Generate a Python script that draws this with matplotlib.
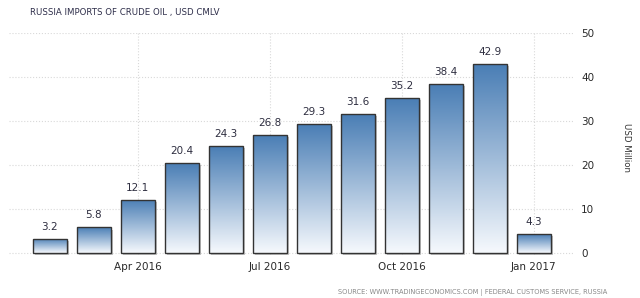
import numpy as np
import matplotlib
matplotlib.use('Agg')
import matplotlib.pyplot as plt
from matplotlib.colors import LinearSegmentedColormap
import matplotlib.patheffects as pe

# Russia imports of crude oil, cumulative, USD million
months = ['Feb 2016', 'Mar 2016', 'Apr 2016', 'May 2016', 'Jun 2016', 'Jul 2016',
          'Aug 2016', 'Sep 2016', 'Oct 2016', 'Nov 2016', 'Dec 2016', 'Jan 2017']
values = [3.2, 5.8, 12.1, 20.4, 24.3, 26.8, 29.3, 31.6, 35.2, 38.4, 42.9, 4.3]
tick_labels = ['Apr 2016', 'Jul 2016', 'Oct 2016', 'Jan 2017']
tick_idx = [months.index(t) for t in tick_labels]

fig = plt.figure(figsize=(6.4, 2.98), dpi=100)
ax = fig.add_axes([0.014, 0.1436, 0.881, 0.7454])

cmap = LinearSegmentedColormap.from_list('grad', ['#f6f9fd', '#4a7eb5'])
grad = np.linspace(0, 1, 256).reshape(-1, 1)
x = np.arange(len(values))
w = 0.77

bars = ax.bar(x, values, width=w, facecolor='white', edgecolor='none', zorder=2,
              path_effects=[pe.SimplePatchShadow(offset=(1.5, -1.5), shadow_rgbFace='#888888', alpha=0.5),
                            pe.Normal()])
for b, xi, v in zip(bars, x, values):
    im = ax.imshow(grad, cmap=cmap, origin='lower', aspect='auto',
                   extent=(xi - w / 2, xi + w / 2, 0, v), zorder=3)
    im.set_clip_path(b)
    ax.text(xi, v + 1.6, f'{v:.1f}', ha='center', va='bottom', fontsize=7.5, color='#2e2e40', zorder=5)
ax.bar(x, values, width=w, facecolor='none', edgecolor='#333333', linewidth=1.0, zorder=4)

ax.set_xlim(-0.93, 11.89)
ax.set_ylim(-0.5, 50)
ax.set_xticks(tick_idx)
ax.set_xticklabels(tick_labels)
ax.set_yticks([0, 10, 20, 30, 40, 50])
ax.yaxis.tick_right()
ax.tick_params(axis='both', length=0, labelsize=7.5, colors='#2a2a2a')
ax.tick_params(axis='y', pad=6)
ax.tick_params(axis='x', pad=5)
ax.grid(True, linestyle=':', color='#d9d9d9', linewidth=0.8, zorder=0)
ax.set_axisbelow(True)
for s in ax.spines.values():
    s.set_visible(False)

fig.text(30 / 640, 1 - 13 / 298, 'RUSSIA IMPORTS OF CRUDE OIL , USD CMLV', fontsize=6.2,
         color='#2e2e4a', ha='left', va='center')
fig.text(627 / 640, 150 / 298, 'USD Million', rotation=270, fontsize=6.2,
         color='#333333', ha='center', va='center')
fig.text(607 / 640, 1 - 292 / 298, 'SOURCE: WWW.TRADINGECONOMICS.COM | FEDERAL CUSTOMS SERVICE, RUSSIA',
         fontsize=4.8, color='#888888', ha='right', va='center')

fig.savefig('out.png', dpi=100)
